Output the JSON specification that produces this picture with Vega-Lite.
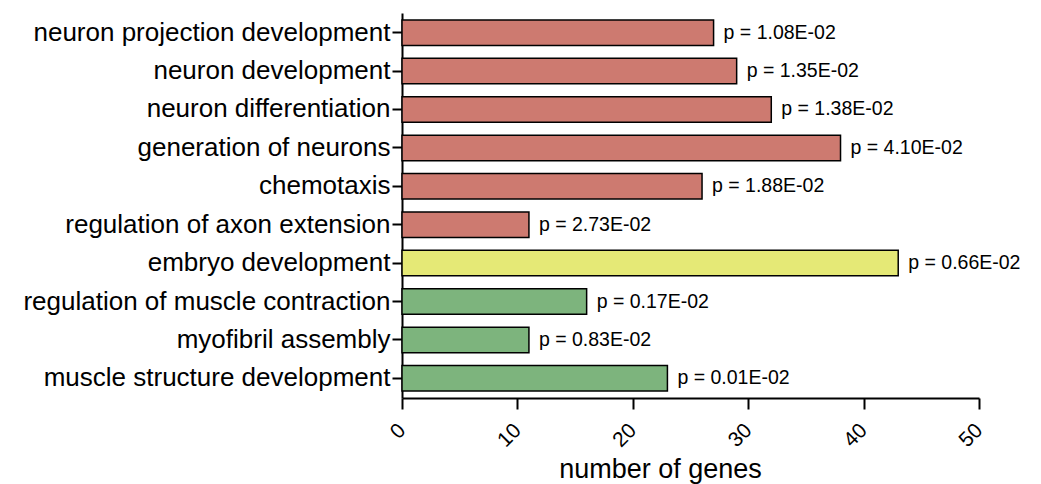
{
  "$schema": "https://vega.github.io/schema/vega-lite/v6.json",
  "autosize": {"type": "none"},
  "width": 577,
  "height": 385,
  "padding": {"left": 402, "top": 13, "right": 62, "bottom": 86},
  "background": "white",
  "config": {"view": {"stroke": null}, "font": "Liberation Sans"},
  "data": {"values": [
    {"term": "neuron projection development", "genes": 27, "p": "p = 1.08E-02", "group": "neuron"},
    {"term": "neuron development", "genes": 29, "p": "p = 1.35E-02", "group": "neuron"},
    {"term": "neuron differentiation", "genes": 32, "p": "p = 1.38E-02", "group": "neuron"},
    {"term": "generation of neurons", "genes": 38, "p": "p = 4.10E-02", "group": "neuron"},
    {"term": "chemotaxis", "genes": 26, "p": "p = 1.88E-02", "group": "neuron"},
    {"term": "regulation of axon extension", "genes": 11, "p": "p = 2.73E-02", "group": "neuron"},
    {"term": "embryo development", "genes": 43, "p": "p = 0.66E-02", "group": "embryo"},
    {"term": "regulation of muscle contraction", "genes": 16, "p": "p = 0.17E-02", "group": "muscle"},
    {"term": "myofibril assembly", "genes": 11, "p": "p = 0.83E-02", "group": "muscle"},
    {"term": "muscle structure development", "genes": 23, "p": "p = 0.01E-02", "group": "muscle"}
  ]},
  "encoding": {
    "y": {
      "field": "term", "type": "nominal", "sort": null,
      "scale": {"paddingInner": 0.336, "paddingOuter": 0.18},
      "axis": {
        "title": null, "domainColor": "black", "domainWidth": 2,
        "tickColor": "black", "tickWidth": 2, "tickSize": 10,
        "labelFontSize": 26, "labelColor": "black", "labelPadding": 2,
        "labelLimit": 500
      }
    }
  },
  "layer": [
    {
      "mark": {"type": "bar", "stroke": "black", "strokeWidth": 1.5},
      "encoding": {
        "x": {
          "field": "genes", "type": "quantitative",
          "scale": {"domain": [0, 50], "nice": false},
          "axis": {
            "title": "number of genes", "titleFontSize": 27, "titleFontWeight": "normal",
            "titleColor": "black", "titleX": 258, "titleY": 79, "titleBaseline": "alphabetic",
            "values": [0, 10, 20, 30, 40, 50], "grid": false,
            "domainColor": "black", "domainWidth": 2,
            "tickColor": "black", "tickWidth": 2, "tickSize": 11,
            "labelFontSize": 21, "labelColor": "black", "labelAngle": -45,
            "labelAlign": "right", "labelBaseline": "middle", "labelPadding": 18
          }
        },
        "color": {
          "field": "group", "type": "nominal", "legend": null,
          "scale": {"domain": ["neuron", "embryo", "muscle"], "range": ["#CD7A70", "#E5E976", "#7DB47D"]}
        }
      }
    },
    {
      "mark": {"type": "text", "align": "left", "dx": 10, "fontSize": 19.5, "color": "black"},
      "encoding": {
        "x": {"field": "genes", "type": "quantitative"},
        "text": {"field": "p"}
      }
    }
  ]
}
